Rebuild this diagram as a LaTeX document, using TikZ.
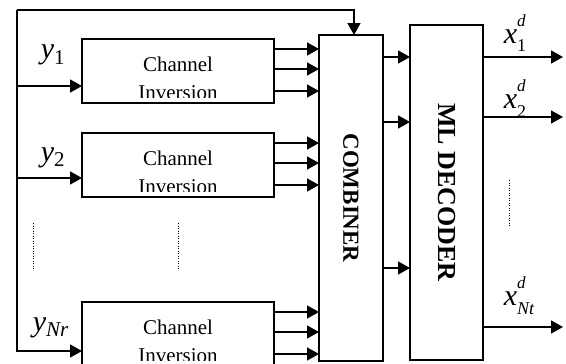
\documentclass[tikz,border=0pt]{standalone}
\usepackage{fontspec}
\setmainfont{Liberation Serif}
\usetikzlibrary{arrows.meta}
% output label: letter with raised and lowered index
\newcommand{\outlab}[2]{\textit{x}\makebox[0pt][l]{\raisebox{17pt}{\fontsize{17}{17}\selectfont\textit{d}}}\raisebox{-9pt}{\fontsize{18}{18}\selectfont #1#2}}

\begin{document}
\begin{tikzpicture}[x=1pt,y=-1pt,line width=1.6pt,
  blk/.style={draw,line width=1.6pt,inner sep=0pt,outer sep=0pt,anchor=north west},
  chbox/.style={blk,minimum width=192pt,minimum height=64pt},
  chtxt/.style={anchor=north,inner sep=0pt,align=center,font=\fontsize{21}{28.5}\selectfont},
  arr/.style={-{Triangle[length=12pt,width=13pt]}},
  vlab/.style={font=\bfseries\fontsize{23}{23}\selectfont,rotate=-90},
  sig/.style={anchor=base west,inner sep=0pt,font=\fontsize{30}{30}\selectfont},
  dots/.style={line width=1pt,dash pattern=on 1pt off 1.5pt}]
\path[use as bounding box] (0,0) rectangle (566,364);
% blocks
\node[chbox] (ch1) at (82,39) {};
\node[chbox] (ch2) at (82,133) {};
\node[chbox] (ch3) at (82,302) {};
\node[blk,minimum width=64pt,minimum height=326pt] (comb) at (319,35) {};
\node[blk,minimum width=73pt,minimum height=335pt] (dec) at (410,25) {};
\node[vlab] at (comb.center) {COMBINER};
\node[vlab,font=\bfseries\fontsize{26}{26}\selectfont] at (dec.center) {ML DECODER};
% channel texts, cut short of the box edge
\foreach \b in {ch1,ch2,ch3}{
  \begin{scope}
    \clip (\b.north west) rectangle ([yshift=6pt]\b.south east);
    \node[chtxt] at ([yshift=-17pt]\b.north) {Channel\\Inversion};
  \end{scope}
}
% inputs
\coordinate (tl) at (17,10);
\draw[arr] (tl) -| ([xshift=3pt]comb.north);
\draw[arr] (tl) |- ([yshift=-17pt]ch3.west);
\draw[arr] ([yshift=-15pt]ch1.west -| tl) -- ([yshift=-15pt]ch1.west);
\draw[arr] ([yshift=-13pt]ch2.west -| tl) -- ([yshift=-13pt]ch2.west);
\node[sig] at (40,59) {$\mathit{y}_{\mathrm{1}}$};
\node[sig] at (40,161) {$\mathit{y}_{\mathrm{2}}$};
\node[sig] at (32,331) {$\mathit{y}_{\mathit{Nr}}$};
% box outputs to combiner
\foreach \b in {ch1,ch2,ch3}
  \foreach \dy in {10,30,52}{
    \path (\b.north east) ++(0,\dy) coordinate (t);
    \draw[arr] (t) -- (t -| comb.west);
  }
% combiner to decoder
\foreach \yy in {57,122,268}{
  \path (comb.north east) ++(0,\yy-35) coordinate (t);
  \draw[arr] (t) -- (t -| dec.west);
}
% decoder outputs
\coordinate (o1) at (563,57);
\coordinate (o2) at (563,117);
\coordinate (o3) at (563,327);
\draw[arr] (o1 -| dec.east) -- (o1);
\draw[arr] (o2 -| dec.east) -- (o2);
\draw[arr] (o3 -| dec.east) -- (o3);
\node[sig] at (503,43) {\outlab{1}{}};
\node[sig] at (503,108) {\outlab{2}{}};
\node[sig] at (503,305) {\outlab{\itshape N}{t}};
% dots
\draw[dots] (33,223) -- (33,270);
\draw[dots] (178,223) -- (178,270);
\draw[dots] (509,180) -- (509,227);
\end{tikzpicture}
\end{document}
